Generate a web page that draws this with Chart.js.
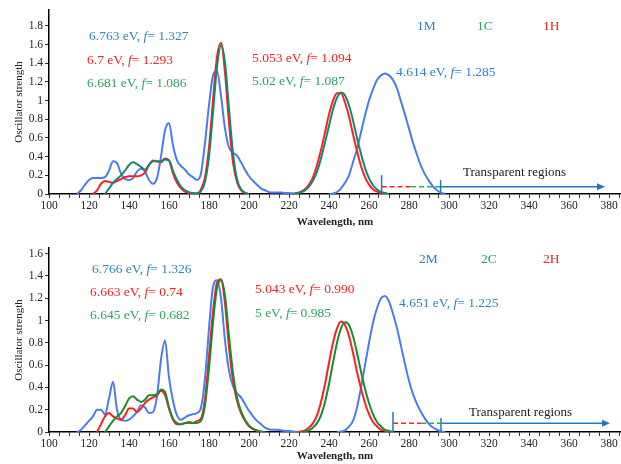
<!DOCTYPE html>
<html>
<head>
<meta charset="utf-8">
<script src="https://cdn.jsdelivr.net/npm/chart.js@4.4.1/dist/chart.umd.min.js"></script>
<style>
  html, body { margin: 0; padding: 0; background: #fff; }
  .box { position: absolute; left: 0; width: 621px; }
  #top { top: 0; height: 230px; }
  #bot { top: 230px; height: 234px; }
</style>
</head>
<body>
<div class="box" id="top"><canvas id="c1" width="621" height="230"></canvas></div>
<div class="box" id="bot"><canvas id="c2" width="621" height="234"></canvas></div>
<script>
// wavelength grid, nm
const wavelength = [
  114, 116, 118, 120, 122, 124, 126, 128, 130, 132,
  134, 136, 138, 140, 142, 144, 146, 148, 150, 152,
  154, 156, 158, 160, 162, 164, 166, 168, 170, 172,
  174, 176, 178, 180, 182, 184, 186, 188, 190, 192,
  194, 196, 198, 200, 202, 204, 206, 208, 210, 212,
  214, 216, 218, 220, 222, 224, 226, 228, 230, 232,
  234, 236, 238, 240, 242, 244, 246, 248, 250, 252,
  254, 256, 258, 260, 262, 264, 266, 268, 270, 272,
  274, 276, 278, 280, 282, 284, 286, 288, 290, 292,
  294, 296, 298, 300
];

// top panel
const spec1M = [
  0, 0.04, 0.10, 0.15, 0.17, 0.17, 0.17, 0.18, 0.25, 0.35,
  0.33, 0.22, 0.16, 0.15, 0.17, 0.24, 0.27, 0.24, 0.15, 0.11,
  0.17, 0.40, 0.68, 0.76, 0.52, 0.36, 0.30, 0.26, 0.21, 0.18,
  0.15, 0.22, 0.55, 0.95, 1.27, 1.32, 1.05, 0.70, 0.50, 0.44,
  0.41, 0.34, 0.26, 0.19, 0.14, 0.10, 0.06, 0.04, 0.02, 0.015,
  0.015, 0.015, 0.01, 0.01, 0.005, 0, null, null, null, null,
  null, null, null, 0, 0.005, 0.02, 0.06, 0.12, 0.20, 0.34,
  0.48, 0.66, 0.84, 1.00, 1.12, 1.22, 1.27, 1.29, 1.27, 1.22,
  1.13, 0.99, 0.85, 0.70, 0.55, 0.42, 0.30, 0.21, 0.14, 0.08,
  0.04, 0.015, 0, null
];
const spec1H = [
  null, null, null, null, 0, 0.04, 0.11, 0.14, 0.13, 0.12,
  0.14, 0.16, 0.18, 0.19, 0.19, 0.19, 0.20, 0.23, 0.31, 0.36,
  0.35, 0.34, 0.38, 0.36, 0.22, 0.12, 0.06, 0.025, 0.01, 0.003,
  0.005, 0.05, 0.18, 0.50, 1.00, 1.47, 1.62, 1.30, 0.76, 0.34,
  0.13, 0.04, 0.01, 0, null, null, null, null, null, null,
  null, null, null, null, 0, 0.01, 0.025, 0.05, 0.10, 0.18,
  0.31, 0.47, 0.66, 0.85, 1.00, 1.08, 1.08, 0.98, 0.83, 0.64,
  0.46, 0.30, 0.18, 0.10, 0.05, 0.025, 0.01, 0, null, null,
  null, null, null, null, null, null, null, null, null, null,
  null, null, null, null
];
const spec1C = [
  null, null, null, null, null, null, null, 0, 0.06, 0.12,
  0.16, 0.20, 0.25, 0.31, 0.34, 0.32, 0.29, 0.26, 0.31, 0.35,
  0.35, 0.35, 0.37, 0.36, 0.25, 0.15, 0.08, 0.04, 0.02, 0.01,
  0.005, 0.03, 0.13, 0.40, 0.87, 1.36, 1.59, 1.41, 0.91, 0.44,
  0.16, 0.05, 0.015, 0, null, null, null, null, null, null,
  null, null, null, null, 0, 0.008, 0.018, 0.039, 0.078, 0.143,
  0.24, 0.38, 0.55, 0.73, 0.905, 1.03, 1.086, 1.056, 0.95, 0.79,
  0.60, 0.43, 0.28, 0.17, 0.094, 0.049, 0.023, 0.010, 0, null,
  null, null, null, null, null, null, null, null, null, null,
  null, null, null, null
];

// bottom panel
const spec2M = [
  0, 0.02, 0.06, 0.10, 0.14, 0.20, 0.20, 0.16, 0.30, 0.45,
  0.20, 0.11, 0.10, 0.11, 0.14, 0.18, 0.24, 0.22, 0.17, 0.18,
  0.32, 0.65, 0.82, 0.49, 0.28, 0.15, 0.11, 0.13, 0.15, 0.16,
  0.17, 0.22, 0.48, 0.93, 1.30, 1.36, 1.20, 0.82, 0.55, 0.41,
  0.35, 0.31, 0.25, 0.19, 0.14, 0.10, 0.07, 0.04, 0.025, 0.02,
  0.02, 0.015, 0.01, 0.01, 0.005, 0, null, null, null, null,
  null, null, null, null, null, 0, 0.005, 0.015, 0.05, 0.10,
  0.22, 0.40, 0.60, 0.80, 0.98, 1.11, 1.20, 1.22, 1.17, 1.06,
  0.93, 0.77, 0.61, 0.46, 0.34, 0.25, 0.18, 0.12, 0.07, 0.04,
  0.02, 0.005, 0, null
];
const spec2H = [
  null, null, null, null, null, 0, 0.07, 0.14, 0.17, 0.14,
  0.12, 0.11, 0.15, 0.21, 0.21, 0.18, 0.21, 0.26, 0.29, 0.31,
  0.33, 0.37, 0.33, 0.21, 0.11, 0.07, 0.07, 0.08, 0.08, 0.08,
  0.10, 0.12, 0.30, 0.68, 1.08, 1.34, 1.37, 1.15, 0.76, 0.46,
  0.28, 0.17, 0.10, 0.05, 0.025, 0.01, 0, null, null, null,
  null, null, null, null, null, 0, 0.005, 0.015, 0.04, 0.08,
  0.15, 0.27, 0.43, 0.62, 0.80, 0.93, 0.99, 0.96, 0.86, 0.71,
  0.54, 0.39, 0.26, 0.16, 0.09, 0.05, 0.02, 0.01, 0, null,
  null, null, null, null, null, null, null, null, null, null,
  null, null, null, null
];
const spec2C = [
  null, null, null, null, null, null, null, 0, 0.05, 0.10,
  0.14, 0.17, 0.23, 0.30, 0.32, 0.29, 0.27, 0.29, 0.33, 0.33,
  0.34, 0.38, 0.36, 0.22, 0.12, 0.08, 0.07, 0.08, 0.09, 0.08,
  0.08, 0.10, 0.24, 0.57, 0.98, 1.29, 1.36, 1.22, 0.86, 0.53,
  0.31, 0.19, 0.11, 0.06, 0.03, 0.015, 0.005, 0, null, null,
  null, null, null, null, null, null, 0, 0.005, 0.015, 0.04,
  0.08, 0.15, 0.27, 0.43, 0.62, 0.80, 0.93, 0.985, 0.96, 0.86,
  0.71, 0.54, 0.39, 0.26, 0.16, 0.09, 0.05, 0.02, 0.01, 0,
  null, null, null, null, null, null, null, null, null, null,
  null, null, null, null
];

// annotations
const namesTop = ['1M', '1C', '1H'];
const namesBot = ['2M', '2C', '2H'];
const evTop = ['6.763', '6.7', '6.681', '5.053', '5.02', '4.614'];
const fTop = ['1.327', '1.293', '1.086', '1.094', '1.087', '1.285'];
const evBot = ['6.766', '6.663', '6.645', '5.043', '5', '4.651'];
const fBot = ['1.326', '0.74', '0.682', '0.990', '0.985', '1.225'];
// transparent region: start, colour change, edge, arrow end (nm)
const transTop = [266.3, 281, 295.8, 378];
const transBot = [272, 286, 296, 380.5];
const transMarkTop = [0.2, 0.15, 0.078];
const transMarkBot = [0.18, 0.125, 0.078];

const BLUE = '#4a7bf7', RED = '#ff1f1f';
const TXT_BLUE = '#2f83c6', TXT_RED = '#f02323', TXT_GREEN = '#2aa65e';
const ARROW = '#1f78c1';
const SERIF = '"Liberation Serif", "Times New Roman", serif';

function drawEv(ctx, x, y, ev, f, color) {
  ctx.fillStyle = color;
  ctx.font = '13.5px ' + SERIF;
  const a = ev + ' eV, ';
  ctx.fillText(a, x, y);
  x += ctx.measureText(a).width;
  ctx.font = 'italic 13.5px ' + SERIF;
  ctx.fillText('f', x, y);
  x += ctx.measureText('f').width;
  ctx.font = '13.5px ' + SERIF;
  ctx.fillText('= ' + f, x, y);
}

const marksPlugin = {
  id: 'marks',
  afterDatasetsDraw(chart, args, o) {
    const ctx = chart.ctx;
    const xs = chart.scales.x, ys = chart.scales.y;
    ctx.save();
    ctx.textBaseline = 'alphabetic';
    ctx.textAlign = 'left';
    const cols = [TXT_BLUE, TXT_RED, TXT_GREEN, TXT_RED, TXT_GREEN, TXT_BLUE];
    o.ev.forEach((e, i) => drawEv(ctx, o.evPos[i][0], o.evPos[i][1], e, o.f[i], cols[i]));
    ctx.font = '13.5px ' + SERIF;
    const ncol = [TXT_BLUE, TXT_GREEN, TXT_RED];
    o.names.forEach((n, i) => {
      ctx.fillStyle = ncol[i];
      ctx.fillText(n, o.namePos[i], o.nameY);
    });

    // transparent region markers
    const t = o.trans, m = o.mark;
    const y0 = ys.getPixelForValue(0);
    const yl = ys.getPixelForValue(m[2]);
    ctx.lineWidth = 1.5;
    ctx.strokeStyle = ARROW;
    ctx.beginPath();
    ctx.moveTo(xs.getPixelForValue(t[0]), y0);
    ctx.lineTo(xs.getPixelForValue(t[0]), ys.getPixelForValue(m[0]));
    ctx.moveTo(xs.getPixelForValue(t[2]), y0);
    ctx.lineTo(xs.getPixelForValue(t[2]), ys.getPixelForValue(m[1]));
    ctx.stroke();
    ctx.setLineDash([5, 3]);
    ctx.strokeStyle = RED;
    ctx.beginPath();
    ctx.moveTo(xs.getPixelForValue(t[0]), yl);
    ctx.lineTo(xs.getPixelForValue(t[1]), yl);
    ctx.stroke();
    ctx.strokeStyle = '#2bb35a';
    ctx.beginPath();
    ctx.moveTo(xs.getPixelForValue(t[1]), yl);
    ctx.lineTo(xs.getPixelForValue(t[2]), yl);
    ctx.stroke();
    ctx.setLineDash([]);
    const xe = xs.getPixelForValue(t[3]);
    ctx.strokeStyle = ARROW;
    ctx.beginPath();
    ctx.moveTo(xs.getPixelForValue(t[2]), yl);
    ctx.lineTo(xe - 6, yl);
    ctx.stroke();
    ctx.fillStyle = ARROW;
    ctx.beginPath();
    ctx.moveTo(xe, yl);
    ctx.lineTo(xe - 8, yl - 3.5);
    ctx.lineTo(xe - 8, yl + 3.5);
    ctx.closePath();
    ctx.fill();

    ctx.fillStyle = '#222';
    ctx.font = '13px ' + SERIF;
    ctx.fillText('Transparent regions', o.transText[0], o.transText[1]);
    ctx.restore();
  }
};

function buildChart(id, series, yMax, padTop, xH, marks) {
  return new Chart(document.getElementById(id), {
    type: 'line',
    data: {
      datasets: series.map(s => ({
        data: wavelength.map((x, i) => ({ x: x, y: s.values[i] })),
        borderColor: s.color,
        borderWidth: 2,
        pointRadius: 0,
        fill: false,
        spanGaps: false,
        cubicInterpolationMode: 'monotone'
      }))
    },
    options: {
      responsive: false,
      animation: false,
      devicePixelRatio: 1,
      layout: { padding: { top: padTop, right: 0, left: 0, bottom: 0 } },
      plugins: { legend: { display: false }, tooltip: { enabled: false }, marks: marks },
      scales: {
        x: {
          type: 'linear', min: 100, max: 386,
          border: { color: '#000', width: 1.5 },
          grid: { drawOnChartArea: false, tickLength: 4, tickColor: '#333' },
          ticks: {
            stepSize: 5, autoSkip: false, maxRotation: 0, includeBounds: false, padding: 1,
            color: '#222', font: { family: SERIF, size: 11.5 },
            callback: v => (v % 20 === 0 ? String(v) : '')
          },
          title: {
            display: true, text: 'Wavelength, nm', color: '#222',
            font: { family: SERIF, size: 11, weight: 'bold' }, padding: { top: 0, bottom: 1 }
          },
          afterFit: s => { s.height = xH; }
        },
        y: {
          min: 0, max: yMax,
          border: { color: '#000', width: 1.5 },
          grid: { drawOnChartArea: false, tickLength: 4, tickColor: '#333' },
          ticks: {
            stepSize: 0.2, includeBounds: false, padding: 2,
            color: '#222', font: { family: SERIF, size: 11.5 },
            callback: v => String(Math.round(v * 10) / 10)
          },
          title: {
            display: true, text: 'Oscillator strength', color: '#222',
            font: { family: SERIF, size: 11 }, padding: { top: 13, bottom: 0 }
          },
          afterFit: s => { s.width = 49; }
        }
      }
    },
    plugins: [marksPlugin]
  });
}

buildChart('c1', [
  { values: spec1C, color: '#17866e' },
  { values: spec1H, color: RED },
  { values: spec1M, color: BLUE }
], 1.97, 10, 36, {
  ev: evTop, f: fTop,
  evPos: [[89, 40], [87, 64], [87, 87], [252, 62], [252, 85], [396, 76]],
  names: namesTop, namePos: [417, 477, 543], nameY: 30,
  trans: transTop, mark: transMarkTop, transText: [463, 176]
});

buildChart('c2', [
  { values: spec2C, color: '#1d8a2e' },
  { values: spec2H, color: RED },
  { values: spec2M, color: BLUE }
], 1.65, 18, 32, {
  ev: evBot, f: fBot,
  evPos: [[92, 43], [90, 66], [90, 89], [255, 63], [255, 87], [399, 77]],
  names: namesBot, namePos: [419, 481, 543], nameY: 33,
  trans: transBot, mark: transMarkBot, transText: [469, 186]
});
</script>
</body>
</html>
